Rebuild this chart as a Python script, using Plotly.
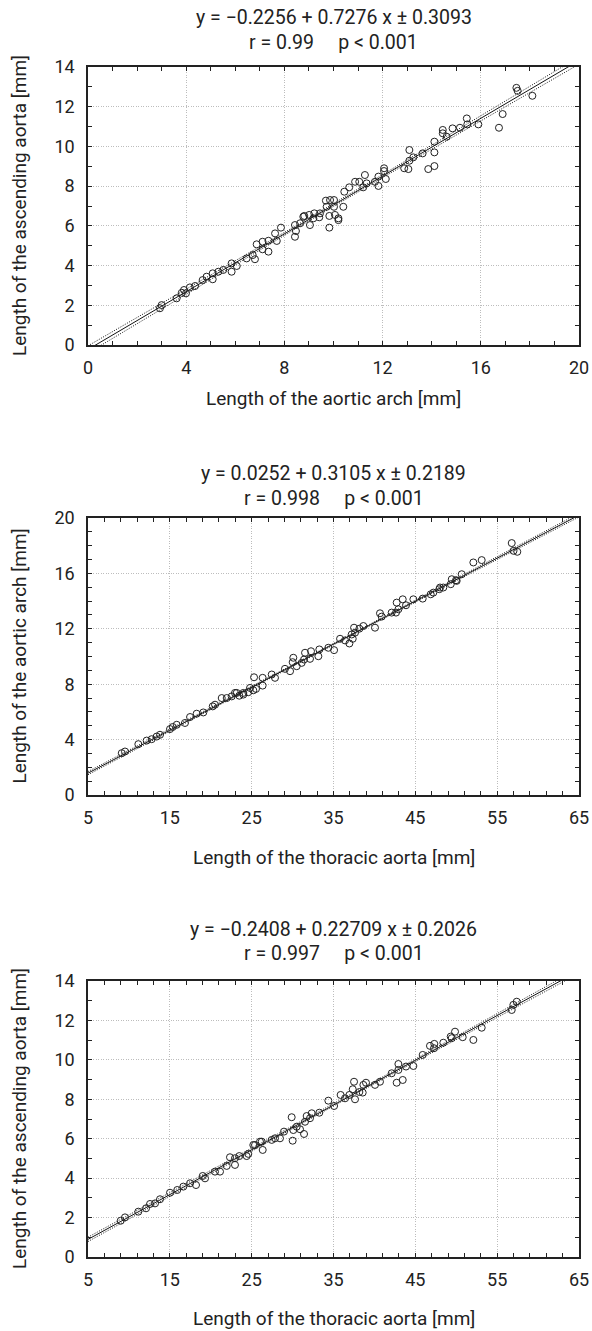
import numpy as np
import plotly.graph_objects as go

# ---------------- data ----------------
# Panel 1: aortic arch (x) vs ascending aorta (y)
p1_x = [15.43, 16.89, 16.74, 15.90, 15.45, 15.15, 14.85, 14.45, 14.45, 14.61, 14.11, 14.11, 14.11, 13.86,
        13.09, 13.63, 13.25, 13.09, 13.05, 12.88, 12.06, 12.06, 12.13, 11.83, 11.83, 11.69, 11.28, 11.35,
        11.05, 10.88, 11.21, 10.64, 10.44, 10.40, 10.02, 9.86, 9.69, 10.02, 9.72, 9.45, 9.22, 9.01, 8.81,
        9.83, 10.06, 10.20, 9.18, 10.20, 9.83, 9.42, 9.04, 8.77, 8.64, 8.43, 8.47, 8.43, 7.86, 7.62, 7.69,
        7.35, 7.11, 6.87, 7.11, 7.35, 6.80, 6.46, 6.71, 6.06, 5.85, 5.85, 5.51, 5.31, 5.08, 5.08, 4.83,
        4.67, 4.36, 4.15, 3.91, 3.99, 3.82, 3.61, 3.00, 2.93, 17.45, 17.50, 18.10]
p1_y = [11.41, 11.63, 10.94, 11.11, 11.11, 10.94, 10.91, 10.83, 10.66, 10.49, 10.24, 9.70, 9.01, 8.86,
        9.82, 9.65, 9.45, 9.28, 8.86, 8.90, 8.90, 8.76, 8.36, 8.48, 8.01, 8.22, 8.56, 8.14,
        8.22, 8.22, 7.94, 7.94, 7.72, 6.96, 7.30, 7.30, 7.27, 6.96, 6.96, 6.63, 6.63, 6.55, 6.50,
        6.50, 6.55, 6.38, 6.38, 6.29, 5.91, 6.43, 6.04, 6.46, 6.13, 6.04, 5.74, 5.45, 5.91, 5.62, 5.24,
        5.25, 5.20, 5.07, 4.82, 4.70, 4.32, 4.36, 4.53, 3.98, 4.11, 3.69, 3.78, 3.69, 3.61, 3.31, 3.44,
        3.27, 2.97, 2.90, 2.77, 2.60, 2.63, 2.35, 2.01, 1.85, 12.95, 12.80, 12.55]

# Panel 2: thoracic aorta (x) vs aortic arch (y)
p2_x = [56.78, 57.00, 57.46, 52.09, 53.11, 50.67, 49.45, 49.33, 49.97, 48.02, 50.05, 48.42, 47.93, 47.20,
        46.88, 45.90, 44.76, 43.46, 42.72, 43.86, 42.93, 42.64, 42.11, 40.68, 40.89, 40.07, 38.65, 38.16,
        37.51, 37.63, 37.22, 37.35, 36.94, 36.41, 35.80, 35.07, 34.37, 33.27, 33.15, 32.25, 32.13, 31.52,
        31.40, 31.11, 30.50, 30.09, 30.01, 29.69, 29.07, 27.85, 27.45, 26.34, 26.34, 25.29, 25.53, 24.80,
        23.98, 23.17, 22.56, 21.34, 25.20, 24.59, 23.98, 23.49, 22.96, 21.95, 20.52, 20.24, 19.09, 18.28,
        17.47, 16.85, 15.84, 15.35, 15.02, 13.80, 13.39, 12.78, 12.17, 11.15, 9.52, 9.12]
p2_y = [18.19, 17.63, 17.56, 16.79, 16.96, 15.94, 15.58, 15.22, 15.51, 14.98, 15.46, 14.98, 14.86, 14.61,
        14.49, 14.18, 14.13, 14.13, 13.89, 13.70, 13.41, 13.17, 13.17, 13.12, 12.88, 12.08, 12.20, 12.01,
        12.08, 11.72, 11.59, 11.28, 10.94, 11.16, 11.28, 10.46, 10.63, 10.51, 10.02, 10.38, 9.83, 10.27,
        9.78, 9.54, 9.30, 9.91, 9.59, 8.94, 9.11, 8.46, 8.70, 8.46, 7.90, 8.50, 7.66, 7.73,
        7.37, 7.37, 7.12, 7.00, 7.56, 7.42, 7.25, 7.17, 7.37, 7.00, 6.52, 6.40, 5.96, 5.87,
        5.63, 5.20, 5.07, 4.91, 4.76, 4.35, 4.22, 4.03, 3.93, 3.67, 3.14, 3.02]

# Panel 3: thoracic aorta (x) vs ascending aorta (y)
p3_x = [56.98, 57.39, 56.78, 53.11, 49.85, 49.32, 52.09, 50.79, 49.45, 48.42, 47.32, 46.79, 47.28, 45.90,
        44.76, 43.86, 42.93, 42.93, 43.46, 42.72, 42.11, 40.68, 40.07, 38.97, 38.65, 38.57, 38.16, 37.51,
        37.35, 37.63, 36.94, 36.41, 35.87, 35.07, 34.37, 33.27, 32.34, 32.13, 31.72, 31.52, 29.89, 30.50,
        30.91, 31.40, 30.09, 28.95, 30.01, 28.46, 27.85, 27.45, 26.02, 25.20, 25.41, 26.23, 26.35, 24.59,
        24.39, 23.49, 22.96, 22.35, 22.96, 21.95, 21.13, 20.52, 19.30, 19.02, 18.20, 17.47, 16.65, 15.91,
        15.02, 13.80, 13.19, 12.58, 12.09, 11.15, 9.52, 9.00]
p3_y = [12.79, 12.95, 12.53, 11.63, 11.43, 11.18, 11.01, 11.15, 11.10, 10.87, 10.81, 10.71, 10.59, 10.25,
        9.69, 9.66, 9.79, 9.49, 8.98, 8.84, 9.32, 8.89, 8.73, 8.84, 8.73, 8.34, 8.37, 8.89,
        8.51, 8.00, 8.22, 8.05, 8.22, 7.66, 7.93, 7.32, 7.29, 7.04, 7.15, 6.86, 7.09, 6.61,
        6.48, 6.24, 6.44, 6.36, 5.90, 6.02, 6.02, 5.94, 5.85, 5.68, 5.68, 5.85, 5.43, 5.23,
        5.12, 5.12, 5.01, 5.06, 4.67, 4.62, 4.33, 4.33, 3.99, 4.11, 3.65, 3.74, 3.57, 3.40,
        3.26, 2.93, 2.72, 2.69, 2.47, 2.30, 2.01, 1.84]

# regression coefficients (from the titles)
p1_coef = (-0.2256, 0.7276, 0.3093)
p2_coef = (0.0252, 0.3105, 0.2189)
p3_coef = (-0.2408, 0.22709, 0.2026)

p1_title = ["y = \u22120.2256 + 0.7276 x \u00b1 0.3093", "r = 0.99     p < 0.001"]
p2_title = ["y = 0.0252 + 0.3105 x \u00b1 0.2189", "r = 0.998     p < 0.001"]
p3_title = ["y = \u22120.2408 + 0.22709 x \u00b1 0.2026", "r = 0.997     p < 0.001"]

p1_xlabel = "Length of the aortic arch [mm]"
p1_ylabel = "Length of the ascending aorta [mm]"
p2_xlabel = "Length of the thoracic aorta [mm]"
p2_ylabel = "Length of the aortic arch [mm]"
p3_xlabel = "Length of the thoracic aorta [mm]"
p3_ylabel = "Length of the ascending aorta [mm]"

# ---------------- layout geometry (px) ----------------
W, H = 592, 1331
FONT = "Roboto, Liberation Sans, sans-serif"
panels = [
    dict(x=p1_x, y=p1_y, coef=p1_coef, title=p1_title, xl=p1_xlabel, yl=p1_ylabel,
         xr=[0, 20], xd=4, xm=1, yr=[0, 14], yd=2, ym=1, top=67, bot=345,
         t1=17, t2=42, xt=398),
    dict(x=p2_x, y=p2_y, coef=p2_coef, title=p2_title, xl=p2_xlabel, yl=p2_ylabel,
         xr=[5, 65], xd=10, xm=2, yr=[0, 20], yd=4, ym=1, top=518, bot=795,
         t1=474, t2=498, xt=857),
    dict(x=p3_x, y=p3_y, coef=p3_coef, title=p3_title, xl=p3_xlabel, yl=p3_ylabel,
         xr=[5, 65], xd=10, xm=2, yr=[0, 14], yd=2, ym=1, top=981, bot=1257,
         t1=929, t2=953, xt=1318),
]
LEFT, RIGHT = 88, 579

fig = go.Figure()
annotations = []
for i, p in enumerate(panels, start=1):
    xa = "x" if i == 1 else f"x{i}"
    ya = "y" if i == 1 else f"y{i}"
    b0, b1, s = p["coef"]
    xs = np.array(p["x"])
    n = len(xs)
    xmean = xs.mean()
    sxx = ((xs - xmean) ** 2).sum()
    lx = np.linspace(p["xr"][0], p["xr"][1], 300)
    ly = b0 + b1 * lx
    half = 1.98 * s * np.sqrt(1.0 / n + (lx - xmean) ** 2 / sxx)
    for yy, dash in [(ly + half, "1px,1.5px"), (ly - half, "1px,1.5px"), (ly, "solid")]:
        fig.add_trace(go.Scatter(x=lx, y=yy, mode="lines", xaxis=xa, yaxis=ya,
                                 line=dict(color="#111", width=1, dash=dash),
                                 hoverinfo="skip", showlegend=False))
    fig.add_trace(go.Scatter(x=p["x"], y=p["y"], mode="markers", xaxis=xa, yaxis=ya,
                             marker=dict(symbol="circle-open", size=7, color="#222",
                                         line=dict(width=1, color="#222")),
                             showlegend=False))
    axcommon = dict(showline=True, linecolor="#222", linewidth=1.5, mirror="allticks",
                    ticks="inside", ticklen=4, tickcolor="#222", automargin=False,
                    showgrid=True, gridcolor="#bdbdbd", griddash="1px,1.5px", gridwidth=1,
                    zeroline=False, tickfont=dict(family=FONT, size=18, color="#222"))
    xdom = [LEFT / W, RIGHT / W]
    ydom = [1 - p["bot"] / H, 1 - p["top"] / H]
    fig.update_layout(**{
        ("xaxis" if i == 1 else f"xaxis{i}"): dict(
            axcommon, domain=xdom, range=p["xr"], dtick=p["xd"], tick0=p["xr"][0],
            anchor=ya, ticklabelstandoff=6,
            minor=dict(dtick=p["xm"], tick0=p["xr"][0], ticks="inside", ticklen=4,
                       tickcolor="#222", showgrid=False)),
        ("yaxis" if i == 1 else f"yaxis{i}"): dict(
            axcommon, domain=ydom, range=p["yr"], dtick=p["yd"], tick0=0,
            anchor=xa, ticklabelstandoff=8,
            minor=dict(dtick=p["ym"], tick0=0, ticks="inside", ticklen=4,
                       tickcolor="#222", showgrid=False)),
    })
    cx = (LEFT + RIGHT) / 2 / W
    for txt, ypx in [(p["title"][0], p["t1"]), (p["title"][1], p["t2"])]:
        annotations.append(dict(text=txt, x=cx, y=1 - ypx / H, xref="paper", yref="paper",
                                xanchor="center", yanchor="middle", showarrow=False,
                                font=dict(family=FONT, size=19.5, color="#222")))
    annotations.append(dict(text=p["xl"], x=cx, y=1 - p["xt"] / H, xref="paper", yref="paper",
                            xanchor="center", yanchor="middle", showarrow=False,
                            font=dict(family=FONT, size=19, color="#222")))
    annotations.append(dict(text=p["yl"], x=19 / W, y=1 - (p["top"] + p["bot"]) / 2 / H,
                            xref="paper", yref="paper", xanchor="center", yanchor="middle",
                            textangle=-90, showarrow=False,
                            font=dict(family=FONT, size=19, color="#222")))

fig.update_layout(width=W, height=H, margin=dict(l=0, r=0, t=0, b=0, autoexpand=False),
                  paper_bgcolor="white", plot_bgcolor="white",
                  annotations=annotations, showlegend=False)
fig.write_html("out.html", config={"displayModeBar": False},
               post_script="document.body.style.margin='0';document.body.style.overflow='hidden';"
                           "document.documentElement.style.overflow='hidden';")
